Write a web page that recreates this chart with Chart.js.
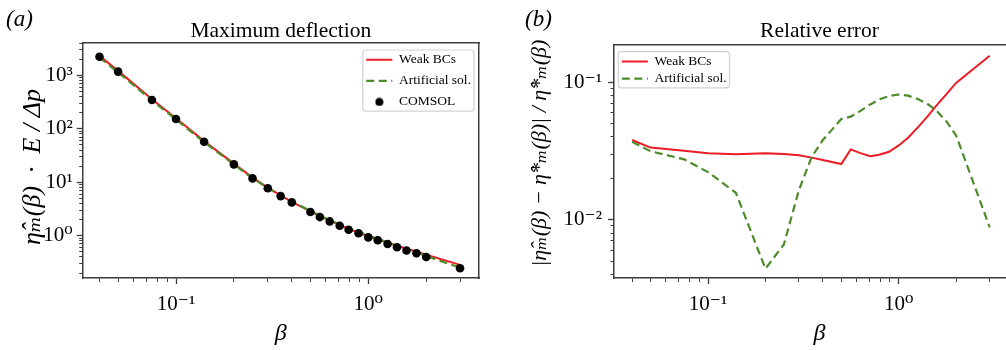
<!DOCTYPE html>
<html>
<head>
<meta charset="utf-8">
<script src="https://cdn.jsdelivr.net/npm/chart.js@4.4.1/dist/chart.umd.min.js"></script>
<style>
html,body{margin:0;padding:0;background:#fff;overflow:hidden;width:1006px;height:350px;}
#wrapA{position:absolute;left:0;top:0;width:500px;height:350px;}
#wrapB{position:absolute;left:500px;top:0;width:540px;height:350px;}
canvas{display:block;}
</style>
</head>
<body>
<div id="wrapA"><canvas id="chartA" width="500" height="350"></canvas></div>
<div id="wrapB"><canvas id="chartB" width="540" height="350"></canvas></div>
<script>
// ---------------- data ----------------
const beta = [0.04, 0.05, 0.075, 0.1, 0.14, 0.2, 0.25, 0.3, 0.35, 0.4, 0.5, 0.56, 0.63, 0.71, 0.79, 0.89, 1.0, 1.12, 1.26, 1.41, 1.58, 1.78, 2.0, 3.0];
const deflectionWeak = [2310, 1210, 356, 157, 58.8, 22.3, 12.2, 7.93, 5.66, 4.31, 2.84, 2.30, 1.91, 1.59, 1.33, 1.15, 0.96, 0.85, 0.74, 0.65, 0.57, 0.51, 0.44, 0.285];
const deflectionArtificial = [2150, 1135, 336, 149, 56.1, 21.5, 11.9, 7.8, 5.66, 4.36, 2.92, 2.35, 1.96, 1.63, 1.38, 1.19, 1.00, 0.88, 0.75, 0.65, 0.56, 0.49, 0.417, 0.252];
const deflectionComsol = [2230, 1170, 345, 152, 57, 21.6, 11.8, 7.7, 5.5, 4.2, 2.77, 2.23, 1.85, 1.54, 1.29, 1.11, 0.93, 0.82, 0.70, 0.61, 0.53, 0.47, 0.40, 0.246];
const errorWeak = [0.038, 0.0335, 0.0318, 0.0305, 0.0300, 0.0304, 0.0301, 0.0295, 0.0283, 0.0272, 0.0254, 0.0325, 0.0305, 0.0290, 0.0297, 0.0312, 0.0347, 0.0395, 0.0470, 0.0560, 0.0680, 0.0820, 0.0990, 0.156];
const errorArtificial = [0.0369, 0.0315, 0.0275, 0.0222, 0.0157, 0.0044, 0.0066, 0.0165, 0.0287, 0.038, 0.054, 0.0562, 0.062, 0.069, 0.075, 0.0795, 0.0815, 0.080, 0.0755, 0.070, 0.062, 0.052, 0.041, 0.0088];

const seriesNames = ['Weak BCs', 'Artificial sol.', 'COMSOL'];
const panelTags = ['(a)', '(b)'];
const panelTitles = ['Maximum deflection', 'Relative error'];
const xAxisTitle = 'β';
const yAxisTitles = ['η̂ₘ(β)  ·  E / Δp  ', '   |η̂ₘ(β) − η̂*ₘ(β)| / η̂*ₘ(β)'];
const xTickValues = [0.1, 1];
const xTickLabels = ['10⁻¹', '10⁰'];
const yTickValuesA = [1, 10, 100, 1000];
const yTickLabelsA = ['10⁰', '10¹', '10²', '10³'];
const yTickValuesB = [0.01, 0.1];
const yTickLabelsB = ['10⁻²', '10⁻¹'];

// ---------------- style ----------------
const SERIF = "'Liberation Serif', 'DejaVu Serif', serif";
const RED = '#ec1c24';
const GREEN = '#4c8c2b';
const AXIS = '#3c3c3c';
Chart.defaults.font.family = SERIF;
Chart.defaults.color = '#000';

function pts(xs, ys) { return xs.map((x, i) => ({x: x, y: ys[i]})); }

function logTicks(min, max) {
  const out = [];
  const e0 = Math.floor(Math.log10(min)), e1 = Math.ceil(Math.log10(max));
  for (let e = e0; e <= e1; e++) {
    for (let k = 1; k <= 9; k++) {
      const v = k * Math.pow(10, e);
      if (v >= min && v <= max) out.push({value: v, major: k === 1});
    }
  }
  return out;
}

function logAxis(pos, min, max, majors, labels, opt) {
  return {
    type: 'logarithmic', position: pos, min: min, max: max, bounds: 'data',
    afterBuildTicks: (s) => { s.ticks = logTicks(min, max); },
    afterFit: opt.fit,
    ticks: {
      autoSkip: false, maxRotation: 0, minRotation: 0, padding: opt.tickPad,
      font: {family: SERIF, size: 21}, color: '#000',
      callback: (v) => {
        const i = majors.findIndex(m => Math.abs(Math.log10(m) - Math.log10(v)) < 1e-6);
        return i >= 0 ? labels[i] : '';
      }
    },
    grid: {
      display: true, drawOnChartArea: false, drawTicks: true, tickLength: 6,
      tickColor: AXIS,
      tickWidth: (c) => (c.tick && c.tick.major) ? 1.3 : 1,
      tickBorderDash: (c) => (c.tick && c.tick.major) ? [] : (pos === 'left' ? [0, 2.5, 3.5, 20] : [3.5, 20])
    },
    border: {display: true, color: AXIS, width: 1.5},
    title: opt.title
  };
}

function frameAxis(pos) {
  return {
    type: 'linear', position: pos, display: true,
    ticks: {display: false}, grid: {display: false, drawTicks: false},
    border: {display: true, color: AXIS, width: 1.5},
    afterFit: (s) => { if (pos === 'top') s.height = 0; else s.width = 0; }
  };
}

let dotImg = document.createElement('canvas');
dotImg.width = 9; dotImg.height = 9;
(function () { const c = dotImg.getContext('2d'); c.fillStyle = '#000'; c.beginPath(); c.arc(4.5, 4.5, 4, 0, Math.PI * 2); c.fill(); })();

function legendLabels(chart) {
  return chart.data.datasets.map((ds, i) => ({
    text: ds.label, datasetIndex: i, hidden: false, fontColor: '#000',
    strokeStyle: ds.showLine === false ? '#000' : ds.borderColor,
    fillStyle: ds.showLine === false ? '#000' : 'rgba(0,0,0,0)',
    lineWidth: ds.showLine === false ? 0 : ds.borderWidth,
    lineDash: ds.borderDash || [],
    pointStyle: ds.showLine === false ? dotImg : 'line'
  }));
}

function legendCfg(pad) {
  return {
    display: true, position: 'chartArea', align: 'start',
    labels: {
      usePointStyle: true, pointStyleWidth: 26, boxHeight: 5, padding: pad,
      font: {family: SERIF, size: 13.5}, color: '#000', generateLabels: legendLabels
    }
  };
}

function legendPlacer(place) {
  return {
    id: 'legendPlacer',
    afterLayout(chart) {
      const lg = chart.legend; if (!lg) return;
      const pad = lg.options.labels.padding;
      const maxW = Math.max.apply(null, lg.legendHitBoxes.map(h => h.width));
      const p = place(chart.chartArea, maxW, pad);
      lg.left = p.left; lg.top = p.top;
      lg.width = maxW + 2 * pad; lg.height = 200;
      lg.right = lg.left + lg.width; lg.bottom = lg.top + lg.height;
    },
    beforeDraw(chart) {
      const hb = chart.legend.legendHitBoxes; if (!hb.length) return;
      const ctx = chart.ctx;
      const l = Math.min.apply(null, hb.map(h => h.left)) - 3.5;
      const r = Math.max.apply(null, hb.map(h => h.left + h.width)) + 3;
      const t = hb[0].top - 3;
      const b = hb[hb.length - 1].top + hb[hb.length - 1].height + 2.5;
      ctx.save();
      ctx.beginPath();
      ctx.roundRect(l, t, r - l, b - t, 3);
      ctx.fillStyle = 'rgba(255,255,255,0.85)'; ctx.fill();
      ctx.strokeStyle = '#d2d2d2'; ctx.lineWidth = 1.2; ctx.stroke();
      ctx.restore();
    }
  };
}

function titles(tag, title, bottomPad) {
  return {
    title: {display: true, text: tag, align: 'start', fullSize: true,
      font: {family: SERIF, size: 23, style: 'italic', weight: 'normal', lineHeight: '12px'}, color: '#000',
      padding: {top: 14, bottom: 0}},
    subtitle: {display: true, text: title, align: 'center', fullSize: false,
      font: {family: SERIF, size: 21.5, weight: 'normal', lineHeight: '11px'}, color: '#000',
      padding: {top: 0, bottom: bottomPad}}
  };
}

// ---------------- panel (a) ----------------
const tA = titles(panelTags[0], panelTitles[0], 6);
new Chart(document.getElementById('chartA'), {
  type: 'line',
  data: {
    datasets: [
      {label: seriesNames[0], data: pts(beta, deflectionWeak), borderColor: RED, borderWidth: 2, pointRadius: 0, tension: 0, fill: false, order: 2},
      {label: seriesNames[1], data: pts(beta, deflectionArtificial), borderColor: GREEN, borderWidth: 2.2, borderDash: [8, 4.5], pointRadius: 0, tension: 0, fill: false, order: 1},
      {label: seriesNames[2], data: pts(beta, deflectionComsol), showLine: false, borderColor: '#000', pointBackgroundColor: '#000', pointBorderColor: '#000', pointRadius: 4.3, pointBorderWidth: 0, order: 0}
    ]
  },
  options: {
    responsive: false, animation: false, devicePixelRatio: 1,
    layout: {padding: {left: 6, right: 21, top: 0, bottom: 0}},
    plugins: {
      legend: legendCfg(7.6),
      title: tA.title, subtitle: tA.subtitle, tooltip: {enabled: false}
    },
    scales: {
      x: logAxis('bottom', 0.03272, 3.764, xTickValues, xTickLabels, {
        tickPad: 8, fit: (s) => { s.height = 72; },
        title: {display: true, text: xAxisTitle, font: {family: SERIF, size: 24, style: 'italic', lineHeight: 1.2}, color: '#000', padding: {top: 0, bottom: 1.6}}
      }),
      y: logAxis('left', 0.1618, 4019, yTickValuesA, yTickLabelsA, {
        tickPad: 4, fit: (s) => { s.width = 76.7; },
        title: {display: true, text: yAxisTitles[0], font: {family: SERIF, size: 26, style: 'italic', lineHeight: 1.2}, color: '#000', padding: {top: 12, bottom: 0}}
      }),
      xTop: frameAxis('top'),
      yRight: frameAxis('right')
    }
  },
  plugins: [legendPlacer((area, w, pad) => ({left: area.right - 8 - w - pad, top: area.top + 10 - pad}))]
});

// ---------------- panel (b) ----------------
const tB = titles(panelTags[1], panelTitles[1], 8);
new Chart(document.getElementById('chartB'), {
  type: 'line',
  data: {
    datasets: [
      {label: seriesNames[0], data: pts(beta, errorWeak), borderColor: RED, borderWidth: 2, pointRadius: 0, tension: 0, fill: false, order: 1},
      {label: seriesNames[1], data: pts(beta, errorArtificial), borderColor: GREEN, borderWidth: 2.2, borderDash: [8, 4.5], pointRadius: 0, tension: 0, fill: false, order: 0}
    ]
  },
  options: {
    responsive: false, animation: false, devicePixelRatio: 1,
    layout: {padding: {left: 25, right: 15, top: 0, bottom: 0}},
    plugins: {
      legend: legendCfg(3.6),
      title: tB.title, subtitle: tB.subtitle, tooltip: {enabled: false}
    },
    scales: {
      x: logAxis('bottom', 0.03214, 4.595, xTickValues, xTickLabels, {
        tickPad: 8, fit: (s) => { s.height = 72; },
        title: {display: true, text: xAxisTitle, font: {family: SERIF, size: 24, style: 'italic', lineHeight: 1.2}, color: '#000', padding: {top: 0, bottom: 1.6}}
      }),
      y: logAxis('left', 0.003764, 0.18684, yTickValuesB, yTickLabelsB, {
        tickPad: 6, fit: (s) => { s.width = 89; },
        title: {display: true, text: yAxisTitles[1], font: {family: SERIF, size: 22, style: 'italic', lineHeight: 1.2}, color: '#000', padding: {top: 2, bottom: 0}}
      }),
      xTop: frameAxis('top'),
      yRight: frameAxis('right')
    }
  },
  plugins: [legendPlacer((area, w, pad) => ({left: area.left + 7.8 - pad, top: area.top + 9.7 - pad}))]
});
</script>
</body>
</html>
